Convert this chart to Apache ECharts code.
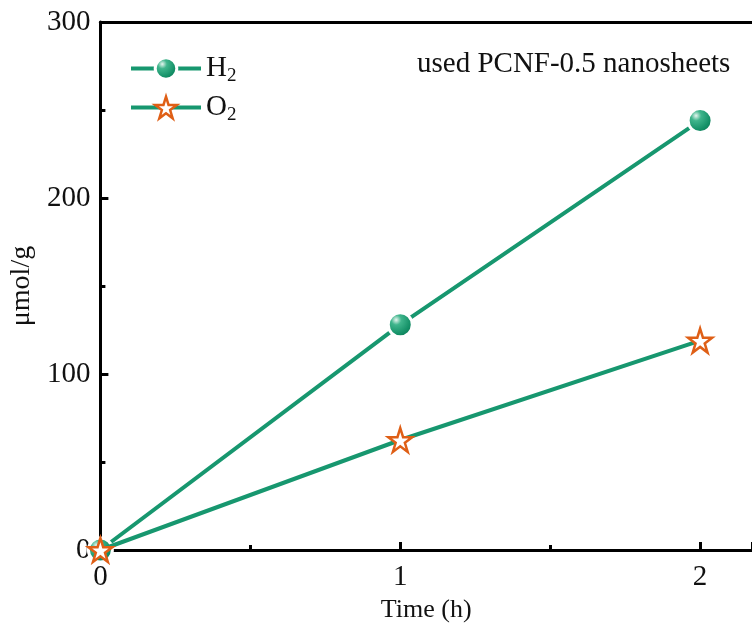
<!DOCTYPE html>
<html>
<head>
<meta charset="utf-8">
<script src="https://cdn.jsdelivr.net/npm/echarts@6/dist/echarts.min.js"></script>
<style>
  html, body { margin: 0; padding: 0; background: #fff; }
  #chart { width: 752px; height: 644px; }
</style>
</head>
<body>
<div id="chart"></div>
<script>
// time (h) and evolved gas (umol/g)
const times = [0, 1, 2];
const h2Values = [0, 128, 244];
const o2Values = [0, 62.5, 119];
const xTicks = [0, 1, 2];
const yTicks = [0, 100, 200, 300];

const green = '#17976f';
const orange = '#df5f16';
const font = 'Liberation Serif, Times New Roman, serif';
const starPath = 'path://M50,2 L61.2,36.3 L97.6,36.3 L68.2,57.6 L79.4,92 L50,70.8 L20.6,92 L31.8,57.6 L2.4,36.3 L38.8,36.3 Z';

const sphere = new echarts.graphic.RadialGradient(0.35, 0.32, 0.75, [
  { offset: 0, color: '#e6f5ef' },
  { offset: 0.25, color: '#3fb58c' },
  { offset: 0.7, color: '#149067' },
  { offset: 1, color: '#0c7451' },
]);

const pairs = (ys) => times.map((t, i) => [t, ys[i]]);

const chart = echarts.init(document.getElementById('chart'));
chart.setOption({
  animation: false,
  title: {
    text: 'used PCNF-0.5 nanosheets',
    left: 412,
    top: 45,
    textStyle: { fontFamily: font, fontSize: 29, fontWeight: 'normal', color: '#111' },
  },
  legend: {
    orient: 'vertical',
    left: 129,
    top: 54,
    padding: 0,
    itemWidth: 70,
    itemHeight: 27,
    itemGap: 7,
    lineStyle: { width: 4 },
    textStyle: {
      fontFamily: font,
      fontSize: 29,
      color: '#111',
      rich: {
        sub: { fontFamily: font, fontSize: 19, color: '#111', padding: [16, 0, 0, 0] },
      },
    },
    formatter: (name) => name.replace('2', '{sub|2}'),
    data: [
      { name: 'H2', itemStyle: { borderWidth: 3 } },
      { name: 'O2', itemStyle: { borderWidth: 2.5 } },
    ],
  },
  grid: { left: 100, right: 0, top: 22, bottom: 94 },
  xAxis: [
    {
      type: 'value',
      min: 0,
      max: 2.173,
      interval: 1,
      name: 'Time (h)',
      nameLocation: 'middle',
      nameGap: 32,
      nameTextStyle: { fontFamily: font, fontSize: 26, color: '#111' },
      axisLine: { lineStyle: { color: '#000', width: 3 } },
      axisTick: { inside: true, length: 8, lineStyle: { width: 3, color: '#000' } },
      minorTick: { show: true, splitNumber: 2, length: 5, lineStyle: { width: 3, color: '#000' } },
      axisLabel: {
        margin: 13,
        fontFamily: font,
        fontSize: 29,
        color: '#111',
        customValues: xTicks,
      },
      splitLine: { show: false },
    },
    {
      type: 'value',
      position: 'top',
      min: 0,
      max: 2.173,
      axisLine: { show: true, onZero: false, lineStyle: { color: '#000', width: 3 } },
      axisTick: { show: false },
      axisLabel: { show: false },
      splitLine: { show: false },
    },
  ],
  yAxis: {
    type: 'value',
    min: 0,
    max: 300,
    interval: 100,
    name: 'μmol/g',
    nameLocation: 'middle',
    nameGap: 58,
    nameTextStyle: { fontFamily: font, fontSize: 28, color: '#111' },
    axisLine: { show: true, lineStyle: { color: '#000', width: 3 } },
    axisTick: { inside: true, length: 8, lineStyle: { width: 3, color: '#000' } },
    minorTick: { show: true, splitNumber: 2, length: 5, lineStyle: { width: 3, color: '#000' } },
    axisLabel: {
      margin: 10,
      fontFamily: font,
      fontSize: 29,
      color: '#111',
      customValues: yTicks,
    },
    splitLine: { show: false },
  },
  series: [
    {
      name: 'H2',
      type: 'line',
      data: pairs(h2Values),
      symbol: 'circle',
      symbolSize: 24,
      lineStyle: { color: green, width: 4 },
      itemStyle: { color: sphere, borderColor: '#fff', borderWidth: 3 },
      z: 3,
    },
    {
      name: 'O2',
      type: 'line',
      data: pairs(o2Values),
      symbol: starPath,
      symbolSize: 24,
      lineStyle: { color: green, width: 4 },
      itemStyle: { color: '#fff', borderColor: orange, borderWidth: 2.5 },
      z: 4,
    },
  ],
});
</script>
</body>
</html>
